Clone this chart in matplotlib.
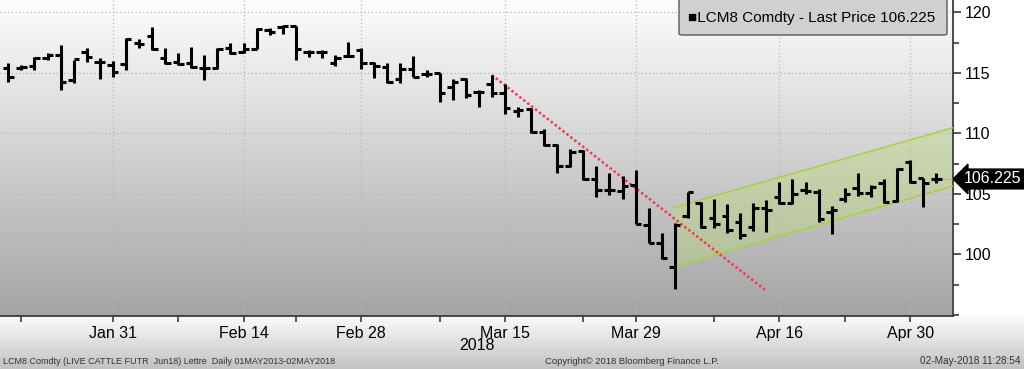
import numpy as np
import pandas as pd
import matplotlib
matplotlib.use("Agg")
import matplotlib.pyplot as plt
from matplotlib.patches import FancyBboxPatch, Polygon
from matplotlib.colors import to_rgb
import matplotlib.transforms as mtransforms

plt.rcParams['font.family'] = ['Liberation Sans', 'DejaVu Sans']

# trading days shown (CME closed on Presidents Day and Good Friday)
holidays = ['2018-02-19', '2018-03-30']
dates = pd.bdate_range('2018-01-19', '2018-05-02')
dates = dates[~dates.isin(pd.to_datetime(holidays))]

# LCM8 daily OHLC
opens = [115.37, 115.37, 115.54, 116.25, 116.47, 114.40, 116.75, 115.92, 115.64, 115.73,
         117.49, 118.04, 116.20, 115.92, 115.79, 115.40, 115.40, 117.05, 116.75, 116.98,
         118.50, 118.80, 118.85, 116.75, 116.75, 115.80, 116.40, 116.85, 115.80, 115.45,
         114.46, 115.30, 114.90, 115.00, 113.80, 114.46, 113.44, 114.07, 113.30, 111.87,
         112.00, 110.13, 109.03, 107.29, 108.55, 106.19, 105.31, 105.26, 105.73, 102.40,
         100.91, 98.98, 103.20, 104.26, 102.97, 103.17, 102.69, 102.25, 103.80, 104.76,
         104.26, 105.31, 105.15, 103.50, 104.54, 105.45, 105.04, 105.90, 104.40, 107.66,
         106.28, 106.20]
highs = [115.79, 115.64, 116.28, 116.61, 117.30, 116.06, 117.02, 116.20, 115.98, 117.85,
         117.77, 118.76, 117.02, 116.60, 117.16, 116.47, 117.05, 117.47, 117.43, 118.70,
         118.70, 118.95, 118.85, 116.88, 116.90, 116.50, 117.57, 117.02, 115.92, 115.80,
         115.80, 116.39, 115.23, 115.00, 114.46, 114.55, 113.58, 114.82, 114.07, 112.20,
         112.06, 110.33, 109.12, 108.68, 108.62, 107.29, 106.69, 106.47, 106.97, 103.80,
         101.79, 102.60, 105.18, 104.35, 104.54, 104.16, 103.39, 104.20, 104.50, 106.00,
         106.20, 106.00, 105.37, 104.00, 105.45, 106.69, 105.73, 106.20, 107.15, 107.79,
         106.28, 106.74]
lows = [114.26, 115.23, 115.23, 116.06, 113.58, 114.13, 115.92, 114.46, 114.68, 115.23,
        117.02, 116.88, 115.75, 115.64, 115.37, 114.40, 115.35, 116.55, 116.60, 116.94,
        118.10, 118.20, 116.06, 116.30, 116.20, 115.60, 116.30, 115.30, 114.55, 114.18,
        114.18, 114.63, 114.63, 112.60, 112.75, 112.88, 112.15, 112.97, 111.60, 111.37,
        110.00, 108.95, 106.69, 107.19, 106.14, 104.76, 104.90, 104.55, 102.50, 100.91,
        99.59, 97.10, 102.97, 102.15, 102.15, 101.79, 101.24, 101.95, 101.87, 104.16,
        104.16, 104.95, 102.69, 101.70, 104.35, 104.82, 104.76, 104.26, 104.30, 105.92,
        103.93, 105.87]
closes = [114.63, 115.50, 116.25, 116.47, 114.26, 116.12, 116.33, 115.92, 115.09, 117.79,
          117.38, 116.94, 115.85, 115.70, 115.50, 115.40, 117.00, 116.67, 117.00, 118.60,
          118.40, 118.85, 117.00, 116.75, 116.75, 116.20, 116.40, 115.80, 115.55, 114.26,
          115.30, 114.68, 114.90, 113.30, 114.26, 113.17, 113.44, 113.30, 112.06, 111.90,
          110.13, 109.03, 107.29, 108.48, 106.19, 105.31, 105.31, 105.64, 102.50, 100.96,
          99.67, 102.45, 105.12, 102.29, 102.50, 102.01, 101.60, 103.80, 103.66, 104.26,
          104.98, 105.25, 102.93, 103.70, 105.00, 105.05, 105.60, 104.35, 107.05, 106.00,
          105.87, 106.225]
last_price = 106.225

# drawn annotations (bar index, price)
trend_x = [37, 58]
trend_y = [114.82, 96.97]
channel_x = [50.9, 72.26]
channel_upper = [103.86, 110.46]
channel_lower = [98.98, 105.64]

label_dates = ['2018-01-31', '2018-02-14', '2018-02-28', '2018-03-15',
               '2018-03-29', '2018-04-16', '2018-04-30']
minor_dates = ['2018-01-22', '2018-02-07', '2018-02-21', '2018-03-08',
               '2018-03-23', '2018-04-09', '2018-04-23']

W, H = 1024, 369
fig = plt.figure(figsize=(W / 100, H / 100), dpi=100)

# background: grey gradient in plot area, white right margin, light footer
ax_px_r, ax_px_b = 952.7, 316
bg = np.ones((H, W, 3))
top_c, bot_c = np.array(to_rgb('#fdfdfd')), np.array(to_rgb('#a4a4a4'))
t = np.linspace(0, 1, int(ax_px_b))[:, None]
bg[:int(ax_px_b), :int(ax_px_r)] = (top_c + (bot_c - top_c) * t)[:, None, :]
f_top, f_bot = np.array(to_rgb('#fbfbfb')), np.array(to_rgb('#c2c2c2'))
t2 = np.linspace(0, 1, H - int(ax_px_b))[:, None]
bg[int(ax_px_b):, :] = (f_top + (f_bot - f_top) * t2)[:, None, :]
bgax = fig.add_axes([0, 0, 1, 1], zorder=-5)
bgax.imshow(bg, aspect='auto', extent=[0, 1, 0, 1], interpolation='bilinear')
bgax.axis('off')

ax = fig.add_axes([0, (H - ax_px_b) / H, ax_px_r / W, ax_px_b / H])
ax.set_facecolor('none')

x = np.arange(len(dates))
o, h, l, c = map(np.array, (opens, highs, lows, closes))
tick = 0.42
ax.vlines(x, l, h, color='black', lw=2.2, zorder=4)
ax.hlines(o, x - tick, x, color='black', lw=2.2, zorder=4)
ax.hlines(c, x, x + tick, color='black', lw=2.2, zorder=4)

# channel
poly = Polygon([(channel_x[0], channel_lower[0]), (channel_x[1], channel_lower[1]),
                (channel_x[1], channel_upper[1]), (channel_x[0], channel_upper[0])],
               closed=True, fc='#bcdc78', alpha=0.38, ec='none', zorder=2)
ax.add_patch(poly)
ax.plot(channel_x, channel_upper, color='#a9d23e', lw=1.1, zorder=3)
ax.plot(channel_x, channel_lower, color='#a9d23e', lw=1.1, zorder=3)

# down trend line
ax.plot(trend_x, trend_y, color='#f03a4e', lw=1.8, ls=(0, (1, 1)), zorder=3)

# last price line
ax.hlines(last_price, x[-1], 72.26, color='#e6b23a', lw=1.0, zorder=3)

ax.set_xlim(-0.635, 72.26)
ax.set_ylim(94.9, 121.02)

# axes styling
for s in ['top', 'left']:
    ax.spines[s].set_visible(False)
for s in ['right', 'bottom']:
    ax.spines[s].set_color('#3a3a3a')
    ax.spines[s].set_linewidth(1.3)

ax.yaxis.tick_right()
ax.set_yticks([100, 105, 110, 115, 120])
ax.set_yticks([95, 97.5, 102.5, 107.5, 112.5, 117.5], minor=True)
ax.tick_params(axis='y', which='major', direction='out', length=6, width=1.2,
               color='#3a3a3a', labelsize=11.5, pad=3)
ax.tick_params(axis='y', which='minor', direction='out', length=4, width=1.2,
               color='#3a3a3a')

idx = {d: i for i, d in enumerate(dates)}
maj = [idx[pd.Timestamp(d)] for d in label_dates]
mnr = [idx[pd.Timestamp(d)] for d in minor_dates]
ax.set_xticks(maj)
ax.set_xticklabels([pd.Timestamp(d).strftime('%b %d') for d in label_dates])
ax.set_xticks(mnr, minor=True)
ax.tick_params(axis='x', which='both', direction='out', length=4, width=1.2,
               color='#3a3a3a', labelsize=11.5, pad=3)

ax.grid(True, which='major', color='#b8b8b8', ls=(0, (1, 2)), lw=0.9, zorder=1)

# last price tag
trans = mtransforms.blended_transform_factory(ax.transAxes, ax.transData)
ax.text(1.0115, last_price, f'{last_price:.3f}', transform=trans, ha='left',
        va='center', color='white', fontsize=11.5, clip_on=False, zorder=6,
        bbox=dict(boxstyle='larrow,pad=0.15', fc='black', ec='black'))

# legend box
leg = FancyBboxPatch((679 / W, 334 / H), 268 / W, 45 / H,
                     boxstyle='round,pad=0,rounding_size=0.004',
                     transform=fig.transFigure, fc='#d0d0d0', ec='#5a5a5a',
                     lw=1.0, zorder=10)
fig.patches.append(leg)
fig.text(688 / W, 1 - 18 / H, '\u25a0LCM8 Comdty - Last Price 106.225',
         fontsize=11, va='center', ha='left', color='black', zorder=11)

# year and footer
fig.text(477 / W, 1 - 345 / H, '2018', ha='center', va='center', fontsize=11.5)
fig.text(3 / W, 1 - 361 / H,
         'LCM8 Comdty (LIVE CATTLE FUTR  Jun18) Lettre  Daily 01MAY2013-02MAY2018',
         ha='left', va='center', fontsize=6.5, color='#333333')
fig.text(632 / W, 1 - 361 / H, 'Copyright\u00a9 2018 Bloomberg Finance L.P.',
         ha='center', va='center', fontsize=6.8, color='#333333')
fig.text(1021 / W, 1 - 361 / H, '02-May-2018 11:28:54',
         ha='right', va='center', fontsize=7.2, color='#333333')

fig.savefig('out.png', dpi=100)
